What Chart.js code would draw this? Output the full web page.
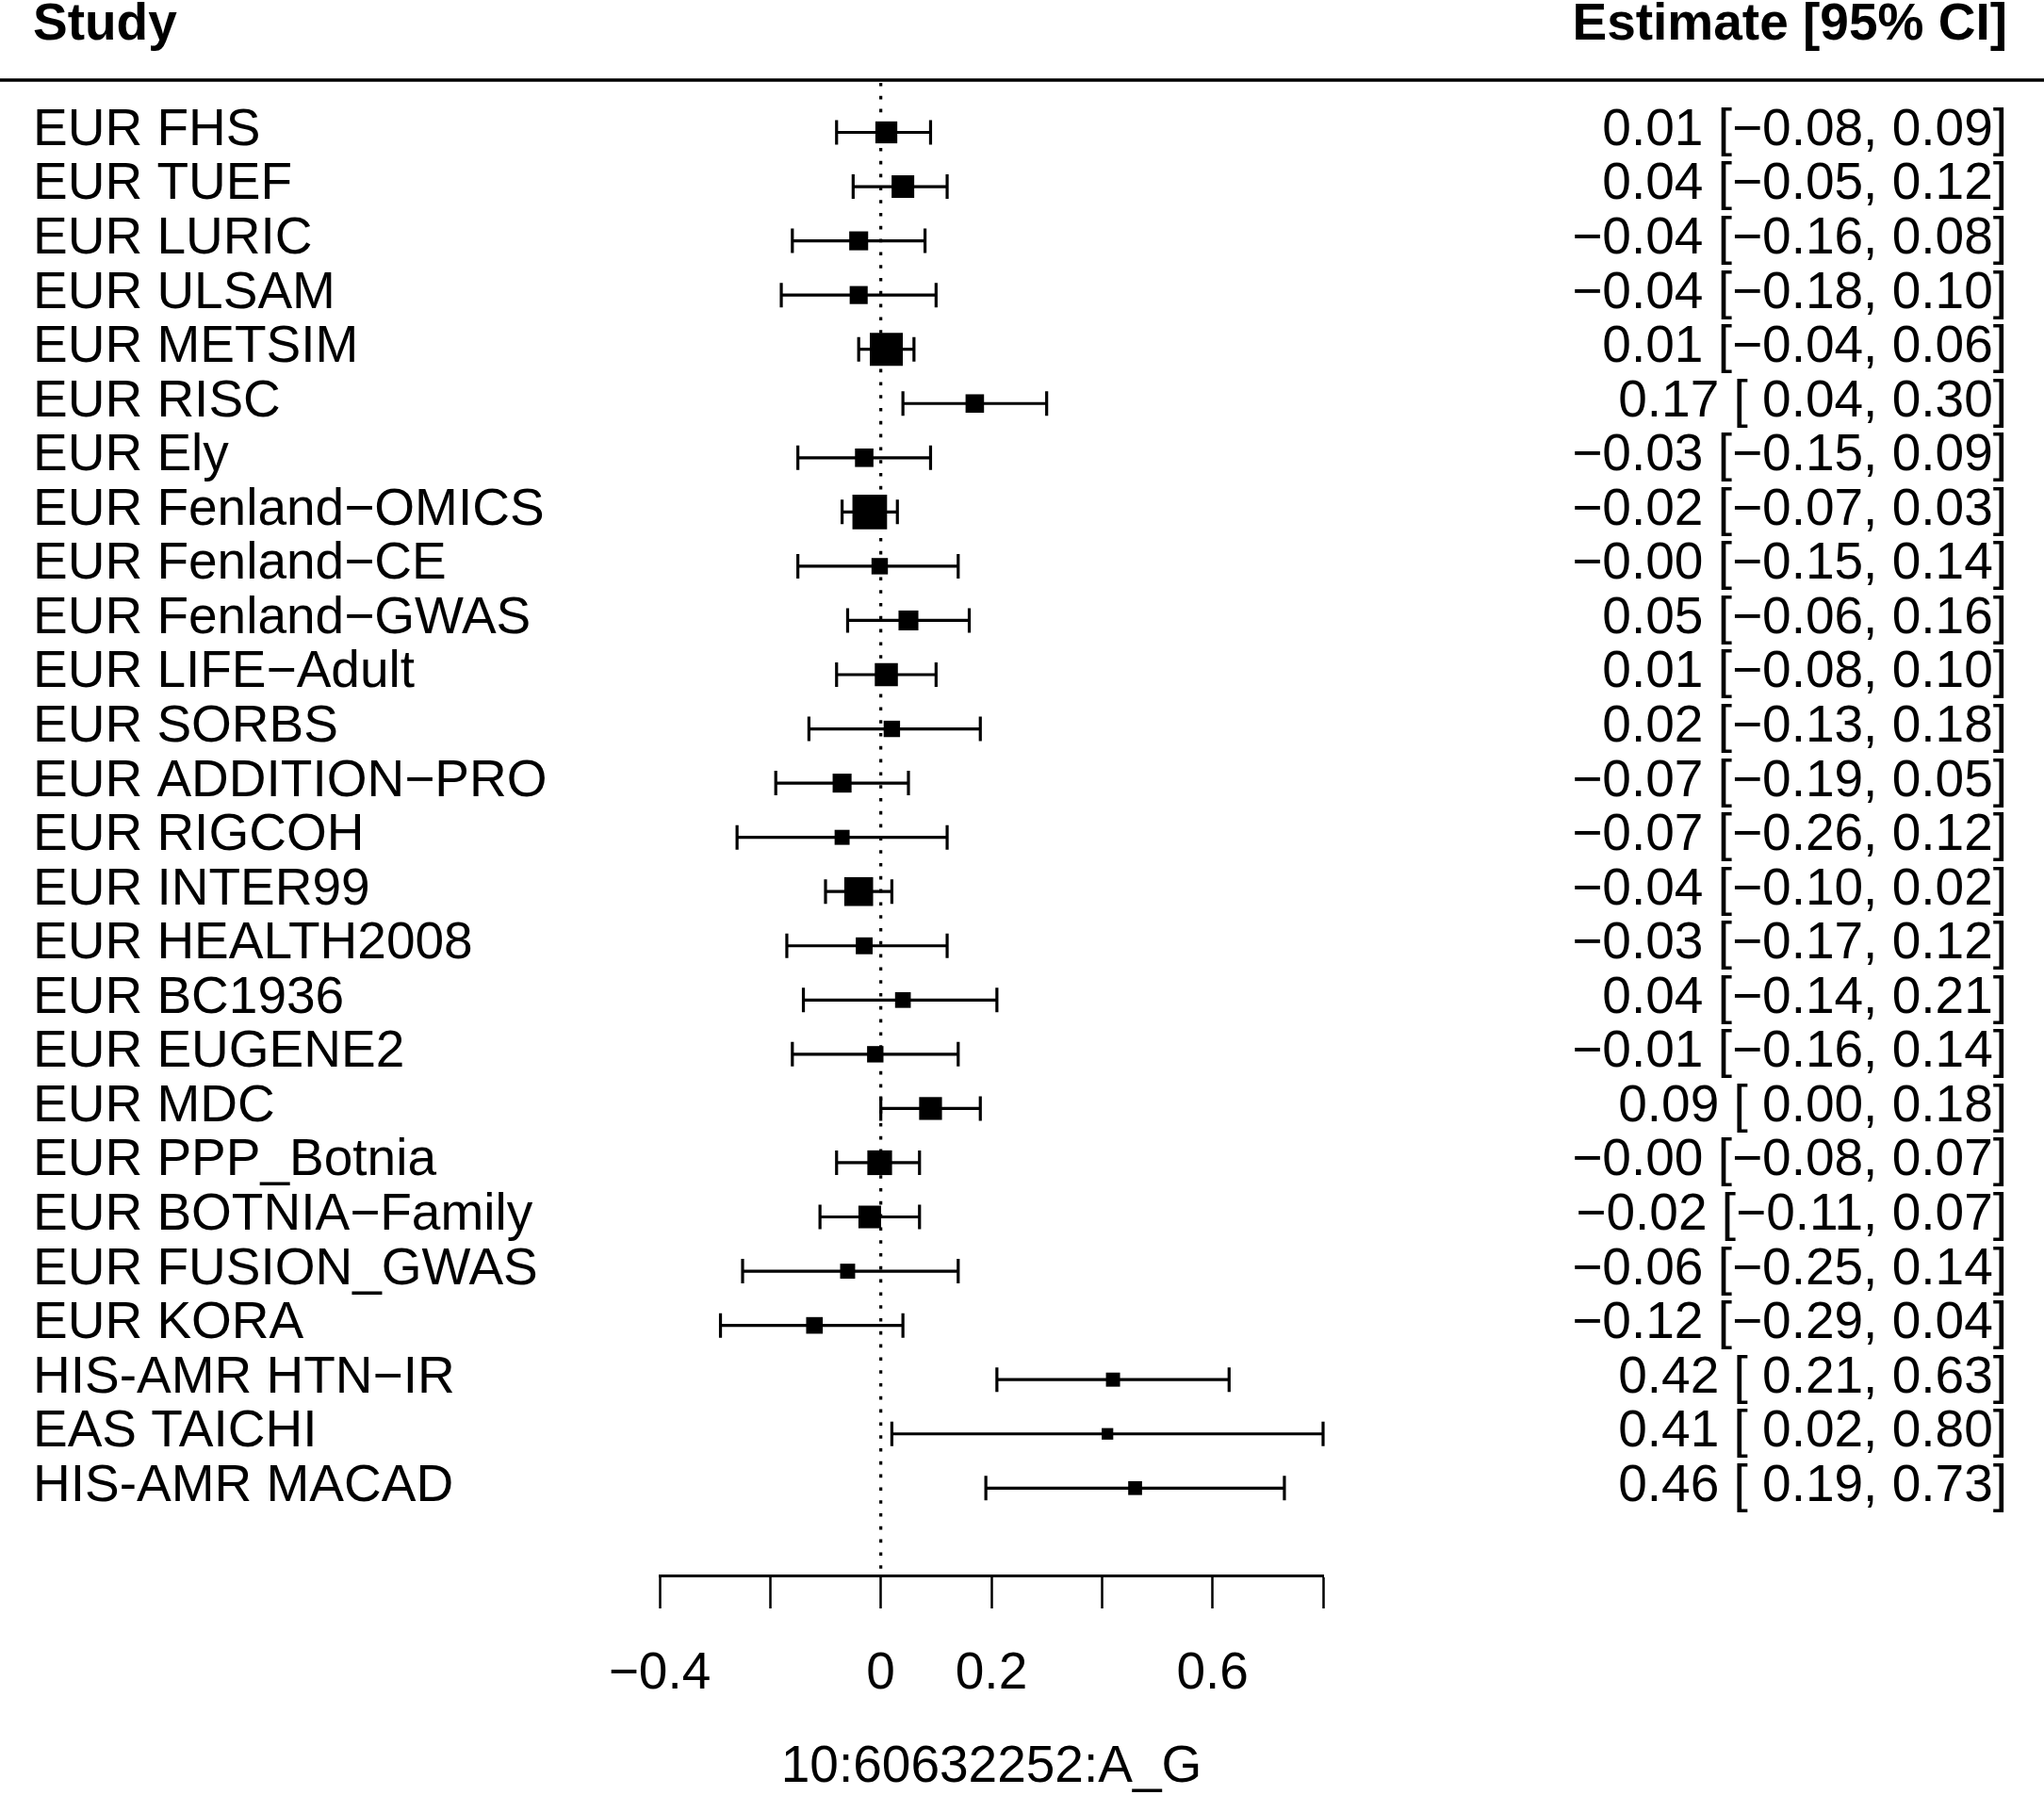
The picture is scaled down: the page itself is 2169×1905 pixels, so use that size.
<!DOCTYPE html>
<html>
<head>
<meta charset="utf-8">
<script src="https://cdn.jsdelivr.net/npm/chart.js@4.4.1/dist/chart.umd.min.js"></script>
<style>
  html, body { margin: 0; padding: 0; background: #fff; }
  canvas { display: block; }
</style>
</head>
<body>
<canvas id="forest" width="2169" height="1905"></canvas>
<script>
// study rows, top to bottom
const studies = [
    'EUR FHS', 'EUR TUEF', 'EUR LURIC', 'EUR ULSAM', 'EUR METSIM', 'EUR RISC', 'EUR Ely',
    'EUR Fenland\u2212OMICS', 'EUR Fenland\u2212CE', 'EUR Fenland\u2212GWAS', 'EUR LIFE\u2212Adult',
    'EUR SORBS', 'EUR ADDITION\u2212PRO', 'EUR RIGCOH', 'EUR INTER99', 'EUR HEALTH2008',
    'EUR BC1936', 'EUR EUGENE2', 'EUR MDC', 'EUR PPP_Botnia', 'EUR BOTNIA\u2212Family',
    'EUR FUSION_GWAS', 'EUR KORA', 'HIS-AMR HTN\u2212IR', 'EAS TAICHI', 'HIS-AMR MACAD'
];
const estimates = [0.01, 0.04, -0.04, -0.04, 0.01, 0.17, -0.03, -0.02, -0.002, 0.05, 0.01, 0.02, -0.07,
    -0.07, -0.04, -0.03, 0.04, -0.01, 0.09, -0.002, -0.02, -0.06, -0.12, 0.42, 0.41, 0.46];
const lower = [-0.08, -0.05, -0.16, -0.18, -0.04, 0.04, -0.15, -0.07, -0.15, -0.06, -0.08, -0.13, -0.19,
    -0.26, -0.10, -0.17, -0.14, -0.16, 0.00, -0.08, -0.11, -0.25, -0.29, 0.21, 0.02, 0.19];
const upper = [0.09, 0.12, 0.08, 0.10, 0.06, 0.30, 0.09, 0.03, 0.14, 0.16, 0.10, 0.18, 0.05,
    0.12, 0.02, 0.12, 0.21, 0.14, 0.18, 0.07, 0.07, 0.14, 0.04, 0.63, 0.80, 0.73];
// relative box size of each study (weight)
const weights = [0.95, 0.98, 0.82, 0.78, 1.43, 0.80, 0.80, 1.50, 0.71, 0.86, 1.00, 0.71, 0.82,
    0.65, 1.25, 0.73, 0.68, 0.71, 0.99, 1.07, 0.98, 0.65, 0.72, 0.61, 0.50, 0.60];

const tickValues = [-0.4, -0.2, 0, 0.2, 0.4, 0.6, 0.8];
const tickLabels = ['\u22120.4', '', '0', '0.2', '', '0.6', ''];
const axisTitle = '10:60632252:A_G';

const FONT = "'Liberation Sans', Arial, Helvetica, sans-serif";
const FONT_SIZE = 55;
const BOX_UNIT = 24.5;   // px side of a box with weight 1
const rowMin = 0.088, rowMax = 27.611;
const labelNudge = 0.03;  // text sits slightly above the boxes

function fmt(v) {
    return (v < 0 ? '\u2212' : '') + Math.abs(v).toFixed(2);
}
function ciLabel(i) {
    return fmt(estimates[i]) + ' [' + (lower[i] >= 0 ? ' ' : '') + fmt(lower[i]) + ', ' + fmt(upper[i]) + ']';
}

const rowTicks = scale => { scale.ticks = studies.map((s, i) => ({ value: i + 1 })); };

const forestPlugin = {
    id: 'forest',
    beforeDatasetsDraw(chart) {
        const { ctx, chartArea, scales: { x, y } } = chart;
        const x0 = x.getPixelForValue(0);
        ctx.save();
        ctx.strokeStyle = '#000';
        ctx.lineWidth = 3.2;
        // dotted reference line at 0
        ctx.setLineDash([3.6, 10.2]);
        ctx.beginPath();
        ctx.moveTo(x0, chartArea.top);
        ctx.lineTo(x0, chartArea.bottom);
        ctx.stroke();
        ctx.setLineDash([]);
        // confidence intervals with end whiskers
        studies.forEach((s, i) => {
            const py = y.getPixelForValue(i + 1);
            const x1 = x.getPixelForValue(lower[i]);
            const x2 = x.getPixelForValue(upper[i]);
            ctx.beginPath();
            ctx.moveTo(x1, py); ctx.lineTo(x2, py);
            ctx.moveTo(x1, py - 13); ctx.lineTo(x1, py + 13);
            ctx.moveTo(x2, py - 13); ctx.lineTo(x2, py + 13);
            ctx.stroke();
        });
        ctx.restore();
    },
    afterDraw(chart) {
        const { ctx, width, scales } = chart;
        ctx.save();
        ctx.fillStyle = '#000';
        ctx.strokeStyle = '#000';
        ctx.font = 'bold ' + FONT_SIZE + 'px ' + FONT;
        ctx.textBaseline = 'alphabetic';
        ctx.textAlign = 'left';
        ctx.fillText('Study', scales.yl.left, 42);
        ctx.textAlign = 'right';
        ctx.fillText('Estimate [95% CI]', scales.yr.right, 42);
        ctx.lineWidth = 3.3;
        ctx.beginPath();
        ctx.moveTo(0, 85);
        ctx.lineTo(width, 85);
        ctx.stroke();
        ctx.restore();
    }
};

Chart.defaults.font.family = FONT;
Chart.defaults.color = '#000';

new Chart(document.getElementById('forest'), {
    type: 'scatter',
    data: {
        datasets: [{
            data: estimates.map((e, i) => ({ x: e, y: i + 1 })),
            xAxisID: 'x',
            yAxisID: 'y',
            pointStyle: 'rect',
            pointRadius: weights.map(w => w * BOX_UNIT / Math.SQRT2),
            pointHoverRadius: weights.map(w => w * BOX_UNIT / Math.SQRT2),
            backgroundColor: '#000',
            borderWidth: 0
        }]
    },
    options: {
        responsive: false,
        animation: false,
        devicePixelRatio: 1,
        events: [],
        layout: { padding: { left: 35, right: 39, top: 88, bottom: 0 } },
        plugins: {
            legend: { display: false },
            tooltip: { enabled: false }
        },
        scales: {
            x: {
                type: 'linear',
                min: -0.4,
                max: 0.8,
                afterBuildTicks: scale => { scale.ticks = tickValues.map(v => ({ value: v })); },
                afterFit: scale => { scale.height = 233; },
                border: { display: true, color: '#000', width: 3 },
                grid: { drawOnChartArea: false, drawTicks: true, tickLength: 35, tickWidth: 2.5, tickColor: '#000', color: '#000' },
                ticks: {
                    autoSkip: false,
                    maxRotation: 0,
                    padding: 37,
                    font: { size: FONT_SIZE },
                    callback: (v, i) => tickLabels[i]
                },
                title: { display: true, text: axisTitle, font: { size: FONT_SIZE }, padding: { top: 0, bottom: -4 } }
            },
            y: { type: 'linear', display: false, min: rowMin, max: rowMax, reverse: true },
            yl: {
                type: 'linear',
                position: 'left',
                min: rowMin + labelNudge,
                max: rowMax + labelNudge,
                reverse: true,
                afterBuildTicks: rowTicks,
                afterFit: scale => { scale.width = 665; },
                grid: { display: false },
                border: { display: false },
                ticks: {
                    autoSkip: false,
                    crossAlign: 'far',
                    font: { size: FONT_SIZE, lineHeight: 1 },
                    callback: v => studies[v - 1]
                }
            },
            yr: {
                type: 'linear',
                position: 'right',
                min: rowMin + labelNudge,
                max: rowMax + labelNudge,
                reverse: true,
                afterBuildTicks: rowTicks,
                afterFit: scale => { scale.width = 726; },
                grid: { display: false },
                border: { display: false },
                ticks: {
                    autoSkip: false,
                    crossAlign: 'far',
                    font: { size: FONT_SIZE, lineHeight: 1 },
                    callback: v => ciLabel(v - 1)
                }
            }
        }
    },
    plugins: [forestPlugin]
});
</script>
</body>
</html>
